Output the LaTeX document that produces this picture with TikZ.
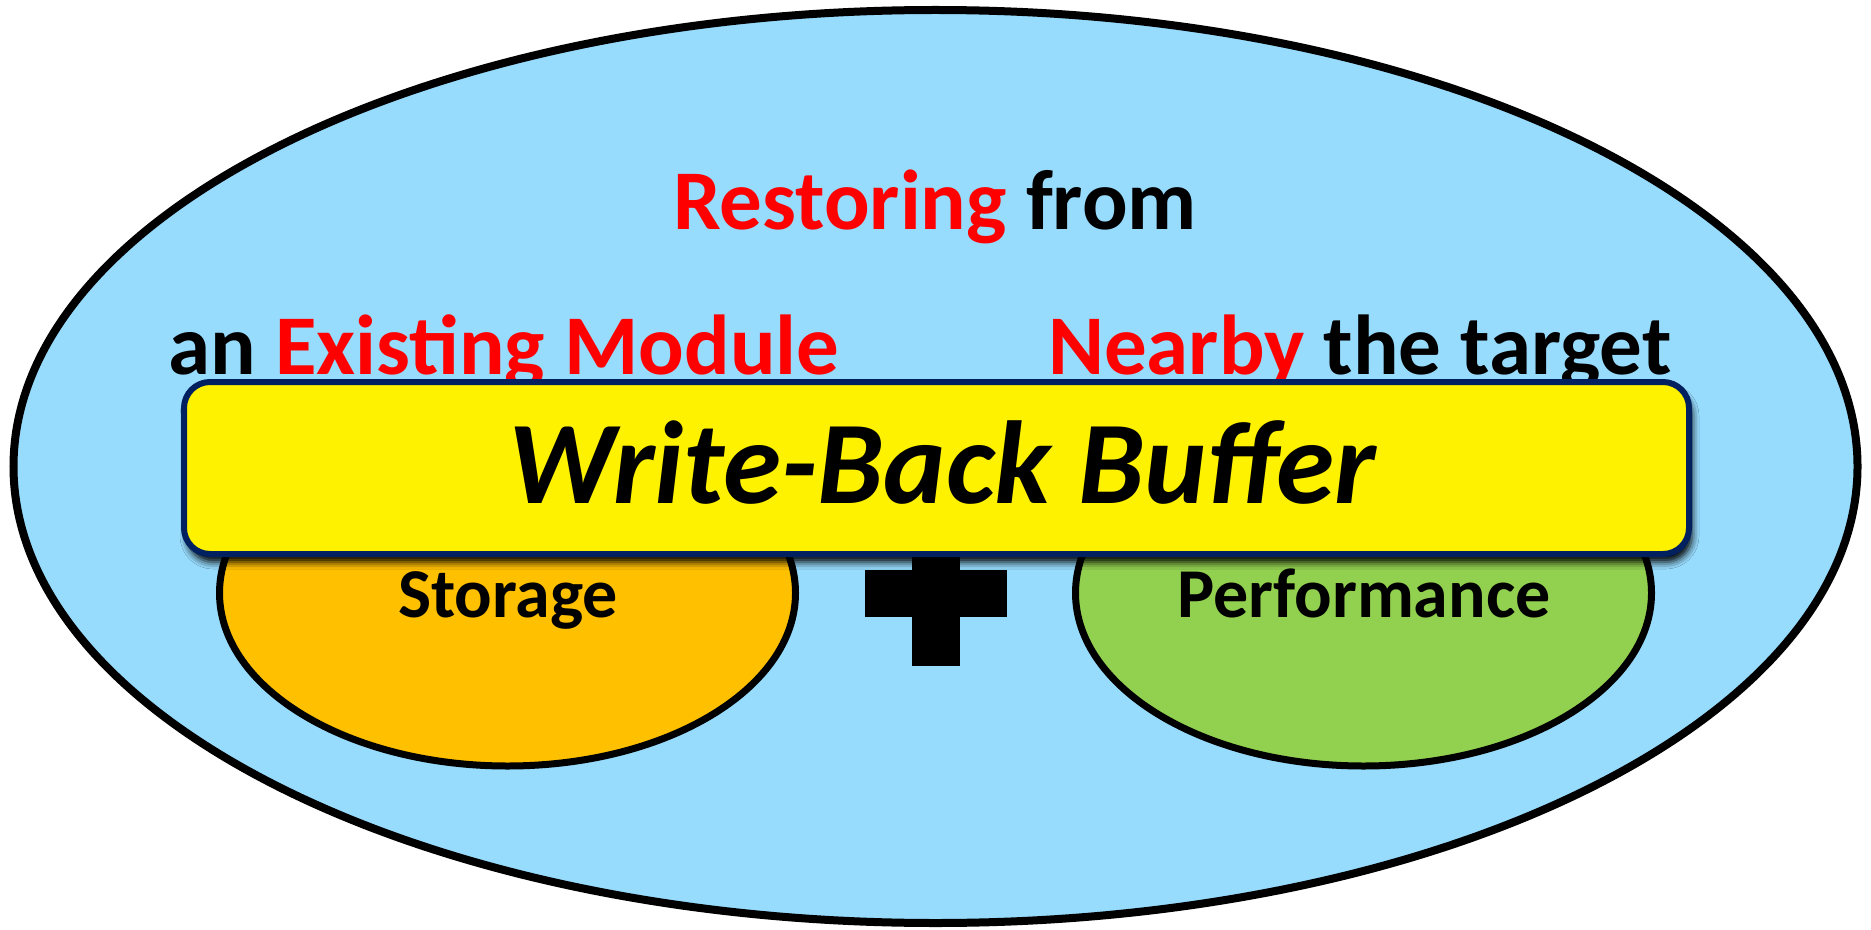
\documentclass[tikz,border=0pt]{standalone}
\usepackage{fontspec}
\setmainfont{Carlito}
\usetikzlibrary{shapes.geometric, shadows.blur}

\definecolor{skyfill}{RGB}{151,219,253}
\definecolor{goldfill}{RGB}{255,192,0}
\definecolor{leaffill}{RGB}{146,208,80}
\definecolor{navyline}{RGB}{0,32,96}
\definecolor{keyred}{RGB}{255,0,0}

\begin{document}
\begin{tikzpicture}[
        x=0.5pt, y=-0.5pt,
        oval/.style={draw, ellipse, line width=3.5pt, inner sep=0pt},
        phrase/.style={inner sep=0pt, anchor=base, font=\bfseries\fontsize{42.5}{50}\selectfont},
        smallphrase/.style={inner sep=0pt, anchor=base, font=\bfseries\fontsize{35}{42}\selectfont},
        bufferbox/.style={draw=navyline, fill=yellow, line width=3pt, rounded corners=13pt,
            minimum width=752.5pt, minimum height=86pt, inner sep=0pt,
            blur shadow={shadow xshift=1.5pt, shadow yshift=-4pt, shadow blur radius=3.5pt, shadow opacity=100}}
    ]
    \useasboundingbox (0,0) rectangle (1871,930);
    % Define ellipses
    \node[oval, line width=4pt, fill=skyfill, minimum width=922pt, minimum height=456.5pt] (outer) at (935.5,466.5) {};
    \node[oval, fill=goldfill, minimum width=288pt, minimum height=173pt] (storage) at (507.5,593) {};
    \node[oval, fill=leaffill, minimum width=288pt, minimum height=173pt] (perf) at (1363.5,593) {};
    % Plus sign
    \fill (865,570) rectangle (1007,617);
    \fill (912,540) rectangle (960,666);
    % Texts
    \node[phrase] (restore) at (935,230) {\textcolor{keyred}{Restoring} from};
    \node[phrase, anchor=base west] (existing) at (168,374) {an \textcolor{keyred}{Existing Module}};
    \node[phrase, anchor=base east] (nearby) at (1672,374) {\textcolor{keyred}{Nearby} the target};
    \node[smallphrase] (storagetxt) at (508,617) {Storage};
    \node[smallphrase] (perftxt) at (1364,617) {Performance};
    % Buffer box
    \node[bufferbox] (wbb) at (936.5,468) {};
    \node[phrase, font=\bfseries\itshape\fontsize{59}{68}\selectfont] (wbbtxt) at (942,503) {Write-Back Buffer};
\end{tikzpicture}
\end{document}
